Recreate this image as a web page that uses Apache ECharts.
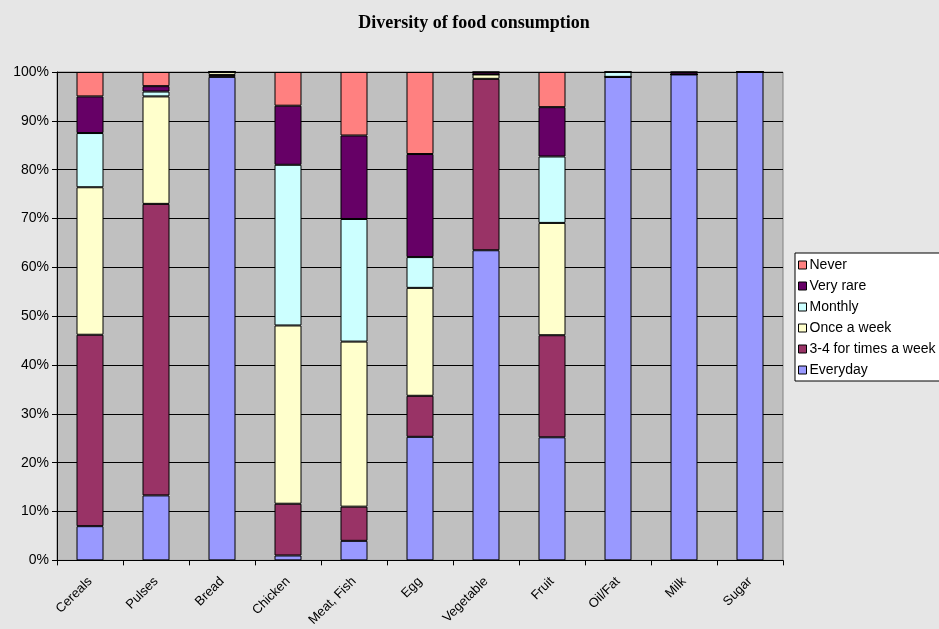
<!DOCTYPE html>
<html>
<head>
<meta charset="utf-8">
<script src="https://cdn.jsdelivr.net/npm/echarts@6/dist/echarts.min.js"></script>
<style>
  html, body { margin: 0; padding: 0; background: #e6e6e6; }
  #chart { width: 939px; height: 629px; }
</style>
</head>
<body>
<div id="chart"></div>
<script>
// categories and stacked shares (percent)
const foods = ['Cereals', 'Pulses', 'Bread', 'Chicken', 'Meat, Fish', 'Egg', 'Vegetable', 'Fruit', 'Oil/Fat', 'Milk', 'Sugar']
const everyday = [7.0, 13.3, 99.0, 1.0, 4.0, 25.3, 63.5, 25.2, 99.0, 99.5, 100]
const threeFour = [39.2, 59.7, 0.4, 10.6, 7.0, 8.4, 35.1, 20.9, 0, 0, 0]
const onceWeek = [30.2, 22.0, 0.6, 36.5, 33.8, 22.1, 0.9, 23.0, 0, 0, 0]
const monthly = [11.1, 1.0, 0, 32.9, 25.1, 6.3, 0, 13.6, 1.0, 0, 0]
const veryRare = [7.5, 1.1, 0, 12.1, 17.1, 21.1, 0.5, 10.1, 0, 0.5, 0]
const never = [5.0, 2.9, 0, 6.9, 13.0, 16.8, 0, 7.2, 0, 0, 0]
const yTicks = ['0%', '10%', '20%', '30%', '40%', '50%', '60%', '70%', '80%', '90%', '100%']

const seriesDefs = [
  { name: 'Everyday', data: everyday, color: '#9999ff' },
  { name: '3-4 for times a week', data: threeFour, color: '#993366' },
  { name: 'Once a week', data: onceWeek, color: '#ffffcc' },
  { name: 'Monthly', data: monthly, color: '#ccffff' },
  { name: 'Very rare', data: veryRare, color: '#660066' },
  { name: 'Never', data: never, color: '#ff8080' }
]

const chart = echarts.init(document.getElementById('chart'))
chart.setOption({
  backgroundColor: '#e6e6e6',
  animation: false,
  title: {
    text: 'Diversity of food consumption',
    left: 469,
    textAlign: 'center',
    top: 9,
    textStyle: { fontFamily: 'Liberation Serif', fontSize: 18, fontWeight: 'bold', color: '#000' }
  },
  legend: {
    orient: 'vertical',
    left: 795,
    top: 253,
    data: ['Never', 'Very rare', 'Monthly', 'Once a week', '3-4 for times a week', 'Everyday'],
    itemWidth: 8,
    itemHeight: 8,
    itemGap: 7,
    icon: 'rect',
    backgroundColor: '#ffffff',
    borderColor: '#000',
    borderWidth: 1,
    padding: [5, 20, 4, 3],
    borderRadius: 0,
    itemStyle: { borderColor: '#000', borderWidth: 1 },
    textStyle: { fontFamily: 'Liberation Sans', fontSize: 14, color: '#000', padding: [0, 0, 0, -2] }
  },
  grid: {
    left: 57,
    right: 156,
    top: 72,
    bottom: 68,
    show: true,
    backgroundColor: '#c0c0c0',
    borderColor: '#808080',
    borderWidth: 1
  },
  xAxis: {
    type: 'category',
    data: foods,
    axisLine: { lineStyle: { color: '#000' } },
    axisTick: { show: true, length: 5, lineStyle: { color: '#000' } },
    axisLabel: { rotate: 45, color: '#000', fontFamily: 'Liberation Sans', fontSize: 13, margin: 19 }
  },
  yAxis: {
    type: 'value',
    min: 0,
    max: 100,
    interval: 10,
    axisLine: { show: true, lineStyle: { color: '#000' } },
    axisTick: { show: true, length: 5, lineStyle: { color: '#000' } },
    splitLine: { lineStyle: { color: '#000', width: 1 } },
    axisLabel: {
      color: '#000',
      fontFamily: 'Liberation Sans',
      fontSize: 14,
      margin: 8,
      formatter: (v) => yTicks[Math.round(v / 10)]
    }
  },
  series: seriesDefs.map(s => ({
    name: s.name,
    type: 'bar',
    stack: 'total',
    barWidth: 27,
    data: s.data,
    itemStyle: { color: s.color, borderColor: '#000', borderWidth: 1 }
  }))
})
</script>
</body>
</html>
